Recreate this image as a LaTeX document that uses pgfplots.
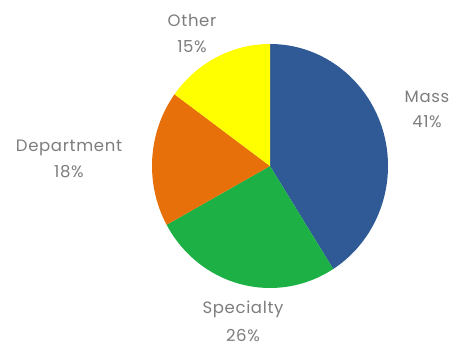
\documentclass[border=0pt]{standalone}
\usepackage{fontspec}
\setmainfont{Poppins}[LetterSpace=4]
\usepackage{pgfplots}
\pgfplotsset{compat=1.18}
\definecolor{pieblue}{RGB}{47,90,150}
\definecolor{piegreen}{RGB}{29,176,69}
\definecolor{pieorange}{RGB}{232,112,10}
\definecolor{pieyellow}{RGB}{255,255,0}
\definecolor{labelgray}{RGB}{125,125,125}
\begin{document}
\begin{tikzpicture}
\begin{axis}[
  width=459bp, height=347bp, scale only axis,
  xmin=0, xmax=459, ymin=0, ymax=347,
  hide axis, clip=false,
]
\path (axis cs:0,0) rectangle (axis cs:459,347);
% share (percent), colour, label x, baseline of name, baseline of share (pixels from top-left), name
\def\pieslices{41/pieblue/427/103/128/Mass, 26/piegreen/243/314/341/Specialty, 18/pieorange/69/152/178/Department, 15/pieyellow/192/27/53/Other}
\gdef\startang{90}
\foreach \v/\c/\lx/\ya/\yb/\name in \pieslices {
  \pgfmathsetmacro\endang{\startang - \v*3.6}
  \pgfmathsetmacro\yya{347-\ya}
  \pgfmathsetmacro\yyb{347-\yb}
  \edef\temp{\noexpand\fill[\c] (axis cs:270,181) -- ++(\startang:118bp and 122bp)
      arc[start angle=\startang, end angle=\endang, x radius=118bp, y radius=122bp] -- cycle;
    \noexpand\node[text=labelgray, font=\noexpand\fontsize{16.5bp}{20bp}\noexpand\selectfont, anchor=base, inner sep=0pt]
      at (axis cs:\lx,\yya) {\name};
    \noexpand\node[text=labelgray, font=\noexpand\fontsize{16.5bp}{20bp}\noexpand\selectfont, anchor=base, inner sep=0pt]
      at (axis cs:\lx,\yyb) {\v\noexpand\%};}
  \temp
  \xdef\startang{\endang}
}
\end{axis}
\end{tikzpicture}
\end{document}
